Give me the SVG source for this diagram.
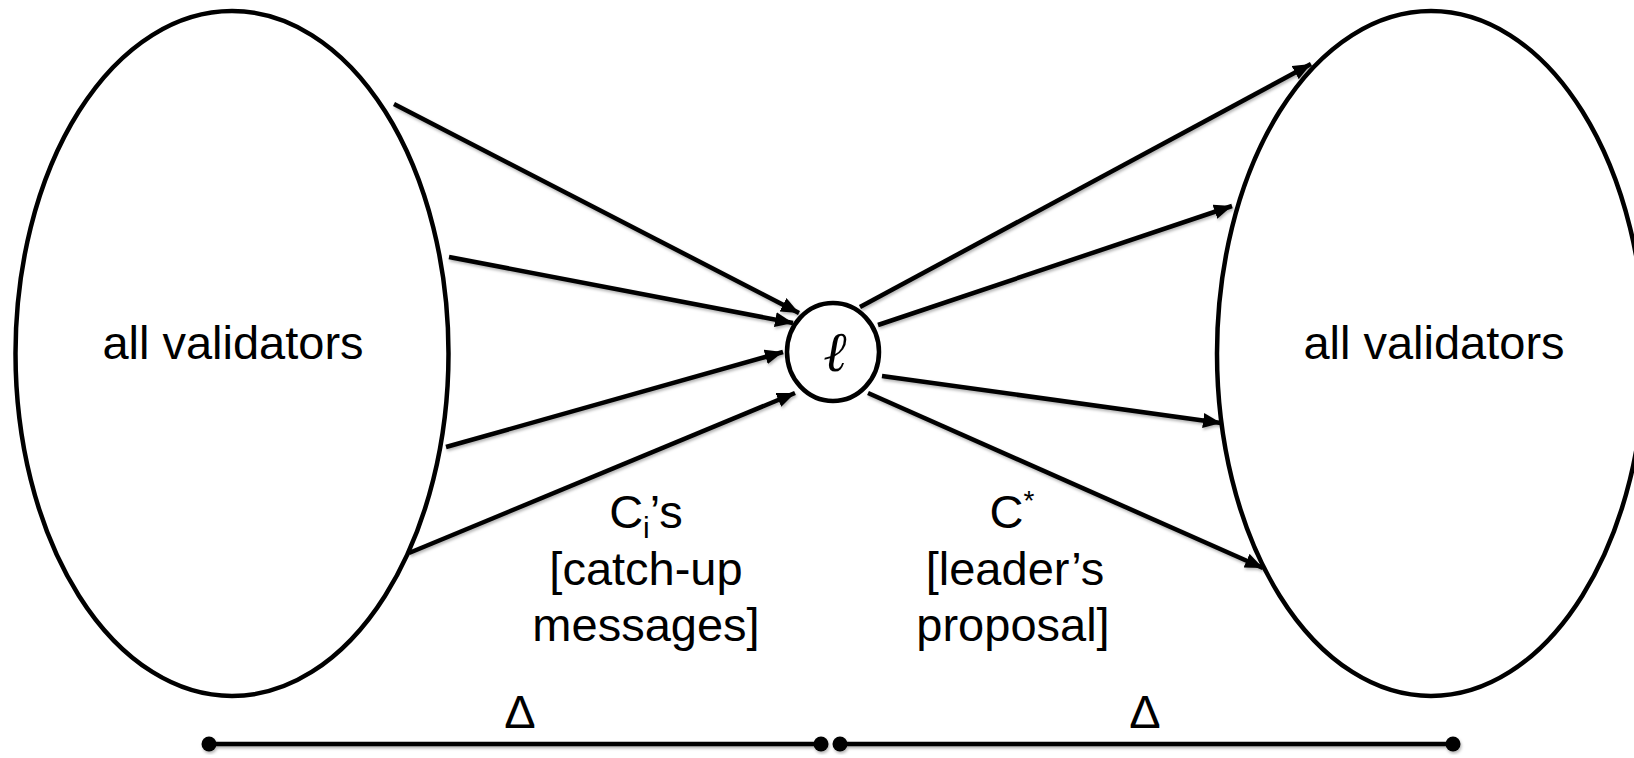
<svg xmlns="http://www.w3.org/2000/svg" width="1634" height="758" viewBox="0 0 1634 758">
  <style>
    .outline { fill: #fff; stroke: #000; stroke-width: 4.5; }
    .edge { fill: none; stroke: #000; stroke-width: 4.5; }
    .label { font-family: "Liberation Sans", Arial, sans-serif; fill: #000; text-anchor: middle; font-size: 47px; }
  </style>
  <defs>
    <marker id="head" markerUnits="userSpaceOnUse" markerWidth="19" markerHeight="15" refX="18" refY="7.5" orient="auto">
      <path d="M0,0 L18,7.5 L0,15 z" fill="#000"/>
    </marker>
    <filter id="shade" x="-5%" y="-20%" width="110%" height="140%">
      <feDropShadow dx="1" dy="2" stdDeviation="1.5" flood-color="#000" flood-opacity="0.3"/>
    </filter>
  </defs>

  <!-- sender set -->
  <g id="validators-left">
    <ellipse class="outline" cx="232" cy="353.5" rx="216.5" ry="342.5"/>
    <text class="label" x="233" y="359">all validators</text>
  </g>

  <!-- receiver set -->
  <g id="validators-right">
    <ellipse class="outline" cx="1431" cy="353.5" rx="214" ry="342.5"/>
    <text class="label" x="1434" y="359">all validators</text>
  </g>

  <!-- message flows in and out of the leader -->
  <g id="connectors" filter="url(#shade)">
    <line class="edge" x1="394" y1="104" x2="799" y2="313" marker-end="url(#head)"/>
    <line class="edge" x1="449" y1="257" x2="793" y2="323" marker-end="url(#head)"/>
    <line class="edge" x1="446" y1="447" x2="783" y2="352" marker-end="url(#head)"/>
    <line class="edge" x1="409" y1="553" x2="795" y2="393" marker-end="url(#head)"/>

    <line class="edge" x1="860" y1="307" x2="1311" y2="64" marker-end="url(#head)"/>
    <line class="edge" x1="878" y1="325" x2="1232" y2="206" marker-end="url(#head)"/>
    <line class="edge" x1="882" y1="376" x2="1221" y2="423" marker-end="url(#head)"/>
    <line class="edge" x1="868" y1="393" x2="1263" y2="568" marker-end="url(#head)"/>
  </g>

  <!-- leader -->
  <g id="leader">
    <ellipse class="outline" cx="833" cy="352" rx="46" ry="49"/>
    <text x="835" y="371" font-family="'DejaVu Serif', 'Liberation Serif', serif" font-style="italic" font-size="56" text-anchor="middle">ℓ</text>
  </g>

  <!-- flow labels -->
  <g id="label-catchup">
    <text class="label" x="646" y="528">C<tspan font-size="30" dy="10">i</tspan><tspan dy="-10">’s</tspan></text>
    <text class="label" x="646" y="585">[catch-up</text>
    <text class="label" x="646" y="641">messages]</text>
  </g>
  <g id="label-proposal">
    <text class="label" x="1012" y="528">C<tspan font-size="28" dy="-18">*</tspan></text>
    <text class="label" x="1015" y="585">[leader’s</text>
    <text class="label" x="1013" y="641">proposal]</text>
  </g>

  <!-- time spans -->
  <g id="timeline" filter="url(#shade)">
    <line class="edge" x1="209" y1="744" x2="821" y2="744"/>
    <circle cx="209" cy="744" r="7.5"/>
    <circle cx="821" cy="744" r="7.5"/>
    <line class="edge" x1="840" y1="744" x2="1453" y2="744"/>
    <circle cx="840" cy="744" r="7.5"/>
    <circle cx="1453" cy="744" r="7.5"/>
  </g>
  <text class="label" x="520" y="728">Δ</text>
  <text class="label" x="1145" y="728">Δ</text>
</svg>
